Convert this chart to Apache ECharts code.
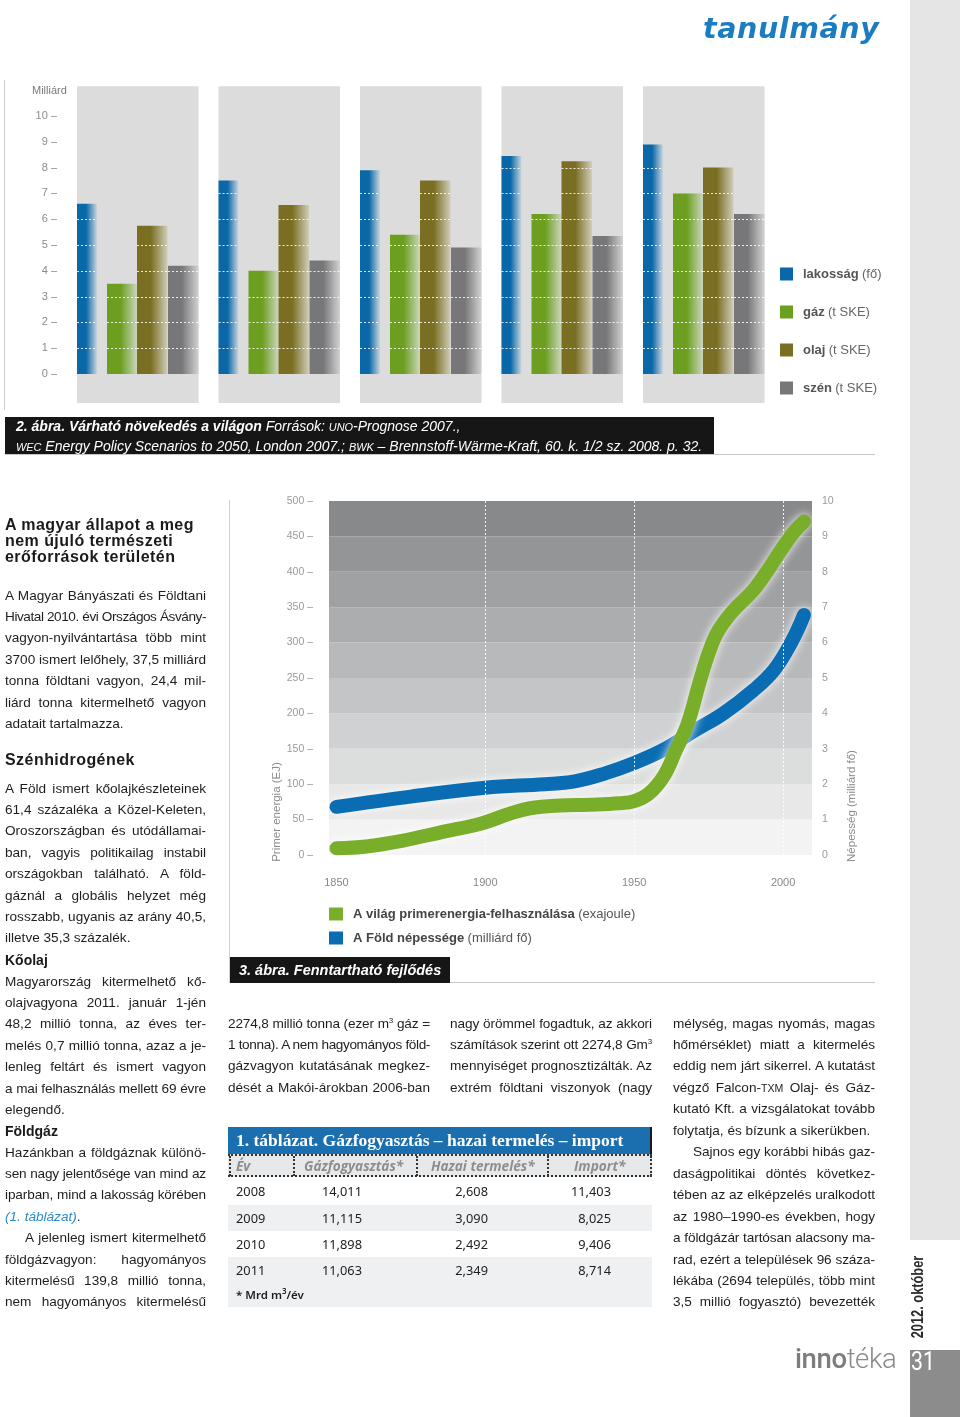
<!DOCTYPE html>
<html><head><meta charset="utf-8">
<script src="https://cdn.jsdelivr.net/npm/echarts@6/dist/echarts.min.js"></script>
<style>
html,body{margin:0;padding:0;background:#fff;}
#page{position:relative;width:960px;height:1417px;overflow:hidden;font-family:"Liberation Sans",Arial,sans-serif;color:#1e1e1e;}
#chart{position:absolute;left:0;top:0;width:960px;height:1417px;z-index:2;}
.bg{position:absolute;z-index:0;}
.abs{position:absolute;white-space:nowrap;z-index:3;}
.ln{position:absolute;white-space:nowrap;font-size:13.6px;height:21px;line-height:21px;z-index:3;color:#1e1e1e;box-sizing:border-box;}
.j{text-align:justify;text-align-last:justify;}
.hd{font-weight:bold;font-size:16px;letter-spacing:0.45px;color:#1a1a1a;}
.sc{font-size:0.78em;}
sup{font-size:8px;line-height:0;vertical-align:5px;}
.rot{position:absolute;z-index:3;text-align:center;white-space:nowrap;transform:rotate(-90deg);}
.cell{position:absolute;white-space:nowrap;z-index:3;}
</style></head>
<body><div id="page">
<div id="chart"></div>
</div>
<script>
// ---------- data ----------
const years = ['2005', '2010', '2020', '2030', '2050'];
const population = [6.6, 7.5, 7.9, 8.45, 8.9];
const gas = [3.5, 4.0, 5.4, 6.2, 7.0];
const oil = [5.75, 6.55, 7.5, 8.25, 8.0];
const coal = [4.2, 4.4, 4.9, 5.35, 6.2];
const barSeriesNames = ['lakosság (fő)', 'gáz (t SKE)', 'olaj (t SKE)', 'szén (t SKE)'];

const energyYears = [1850, 1860, 1872, 1885, 1899, 1908, 1915, 1925, 1935, 1945, 1950, 1955, 1960, 1964, 1968, 1972, 1975, 1978, 1983, 1990, 1995, 2000, 2004, 2007];
const energyEJ = [9.5, 12, 20, 32, 45, 58, 66, 70, 71, 73, 76, 87, 112, 148, 186, 245, 285, 315, 344, 374, 403, 435, 458, 471];
const popYears = [1850, 1875, 1900, 1920, 1930, 1940, 1950, 1960, 1970, 1980, 1990, 1997, 2003, 2007];
const popBillion = [1.36, 1.65, 1.9, 2.0, 2.08, 2.3, 2.6, 2.98, 3.5, 4.0, 4.65, 5.23, 6.05, 6.78];
const lineSeriesNames = ['A világ primerenergia-felhasználása (exajoule)', 'A Föld népessége (milliárd fő)'];
const yearTicks = [1850, 1900, 1950, 2000];
const guideYears = [1900, 1950, 2000];

const tableYears = ['2008', '2009', '2010', '2011'];
const gasConsumption = ['14,011', '11,115', '11,898', '11,063'];
const domesticProduction = ['2,608', '3,090', '2,492', '2,349'];
const gasImport = ['11,403', '8,025', '9,406', '8,714'];
const tableHeaders = ['Év', 'Gázfogyasztás*', 'Hazai termelés*', 'Import*'];

// ---------- page decorations (HTML) ----------
const page = document.getElementById('page');
function el(cls, style, html) {
  const d = document.createElement('div');
  d.className = cls; d.setAttribute('style', style); if (html != null) d.innerHTML = html;
  page.appendChild(d); return d;
}
el('bg', 'left:910px;top:0;width:50px;height:1240px;background:#e5e5e5;');
el('bg', 'left:910px;top:1350px;width:50px;height:67px;background:#8c8c8c;');
el('bg', 'left:4px;top:80px;width:1px;height:330px;background:#cfcfcf;');
el('bg', 'left:5px;top:417px;width:709px;height:37px;background:#161616;');
el('bg', 'left:5px;top:454px;width:870px;height:1px;background:#c8c8c8;');
el('bg', 'left:229px;top:500px;width:1px;height:483px;background:#d0d0d0;');
el('bg', 'left:230px;top:957px;width:220px;height:26px;background:#161616;');
el('bg', 'left:450px;top:982px;width:425px;height:1px;background:#c8c8c8;');

el('abs', 'left:703px;top:12px;font-family:"DejaVu Sans";font-weight:bold;font-style:oblique;font-size:28.5px;line-height:34px;color:#1b7dc0;letter-spacing:0.6px;', 'tanulmány');
el('abs', 'left:32px;top:83px;font-size:11px;line-height:14px;color:#7a7a7a;', 'Milliárd');
el('abs', 'left:16px;top:417px;font-style:italic;font-size:14px;line-height:19px;color:#fff;',
  '<b>2. ábra. Várható növekedés a világon</b> Források: <span class="sc">UNO</span>-Prognose 2007.,<br><span class="sc">WEC</span> Energy Policy Scenarios to 2050, London 2007.; <span class="sc">BWK</span> – Brennstoff-Wärme-Kraft, 60. k. 1/2 sz. 2008. p. 32.');
el('abs', 'left:239px;top:958px;font-style:italic;font-weight:bold;font-size:14.5px;line-height:24px;color:#fff;', '3. ábra. Fenntartható fejlődés');
el('rot', 'left:216px;top:805px;width:120px;height:14px;font-size:11.5px;line-height:14px;color:#8a8a8a;', 'Primer energia (EJ)');
el('rot', 'left:791px;top:799px;width:120px;height:14px;font-size:11.5px;line-height:14px;color:#8a8a8a;', 'Népesség (milliárd fő)');

// footer
el('rot', 'left:858px;top:1288px;width:120px;height:18px;font-size:16px;line-height:18px;font-weight:bold;color:#2a2a2a;transform:rotate(-90deg) scaleX(0.8);', '2012. október');
el('abs', 'left:795px;top:1342px;font-family:Roboto;font-size:27.5px;line-height:34px;color:#8a8a8a;letter-spacing:-0.4px;', '<span style="font-weight:500;color:#7d7d7d">inno</span><span style="font-weight:300">téka</span>');
el('abs', 'left:911px;top:1347px;font-family:Roboto;font-size:25px;line-height:30px;color:#fff;transform:scaleX(0.85);transform-origin:left;', '31');

// ---------- article text ----------
function para(x, y, w, lines, step) {
  step = step || 21.4;
  lines.forEach((l, i) => {
    let txt = l, justify = true, indent = 0;
    if (Array.isArray(l)) { txt = l[0]; if (l[1].indexOf('L') >= 0) justify = false; if (l[1].indexOf('I') >= 0) indent = 20; }
    const d = el('ln', 'left:' + x + 'px;top:' + (y + i * step - 10.5) + 'px;width:' + w + 'px;padding-left:' + indent + 'px;', '<span>' + txt + '</span>');
    const sp = d.firstChild;
    const nat = sp.getBoundingClientRect().width;
    const avail = w - indent;
    if (nat > avail) {
      const n = sp.textContent.length;
      d.style.letterSpacing = ((avail - nat) / n - 0.02) + 'px';
    }
    if (justify) d.className = 'ln j';
  });
}
function heading(x, y, lines, step, size) {
  lines.forEach((t, i) => el('abs hd', 'left:' + x + 'px;top:' + (y + i * step - 9) + 'px;line-height:18px;' + (size ? 'font-size:' + size + 'px;letter-spacing:0;' : ''), t));
}
heading(5, 525, ['A magyar állapot a meg', 'nem újuló természeti', 'erőforrások területén'], 16);
para(5, 595, 201, ['A Magyar Bányászati és Földtani', 'Hivatal 2010. évi Országos Ásvány-', 'vagyon-nyilvántartása több mint',
  '3700 ismert lelőhely, 37,5 milliárd', 'tonna földtani vagyon, 24,4 mil-', 'liárd tonna kitermelhető vagyon', ['adatait tartalmazza.', 'L']]);
heading(5, 760, ['Szénhidrogének'], 16);
para(5, 788, 201, ['A Föld ismert kőolajkészleteinek', '61,4 százaléka a Közel-Keleten,', 'Oroszországban és utódállamai-',
  'ban, vagyis politikailag instabil', 'országokban található. A föld-', 'gáznál a globális helyzet még', 'rosszabb, ugyanis az arány 40,5,', ['illetve 35,3 százalék.', 'L']]);
heading(5, 960, ['Kőolaj'], 16, 14);
para(5, 981, 201, ['Magyarország kitermelhető kő-', 'olajvagyona 2011. január 1-jén', '48,2 millió tonna, az éves ter-',
  'melés 0,7 millió tonna, azaz a je-', 'lenleg feltárt és ismert vagyon', 'a mai felhasználás mellett 69 évre', ['elegendő.', 'L']]);
heading(5, 1131, ['Földgáz'], 16, 14);
para(5, 1152, 201, ['Hazánkban a földgáznak különö-', 'sen nagy jelentősége van mind az', 'iparban, mind a lakosság körében',
  ['<i style="color:#2b8bc9">(1. táblázat)</i>.', 'L'], ['A jelenleg ismert kitermelhető', 'I'], 'földgázvagyon: hagyományos', 'kitermelésű 139,8 millió tonna,', 'nem hagyományos kitermelésű']);
para(228, 1023, 202, ['2274,8 millió tonna (ezer m<sup>3</sup> gáz =', '1 tonna). A nem hagyományos föld-', 'gázvagyon kutatásának megkez-', 'dését a Makói-árokban 2006-ban']);
para(450, 1023, 202, ['nagy örömmel fogadtuk, az akkori', 'számítások szerint ott 2274,8 Gm<sup>3</sup>', 'mennyiséget prognosztizálták. Az', 'extrém földtani viszonyok (nagy']);
para(673, 1023, 202, ['mélység, magas nyomás, magas', 'hőmérséklet) miatt a kitermelés', 'eddig nem járt sikerrel. A kutatást',
  'végző Falcon-<span class="sc">TXM</span> Olaj- és Gáz-', 'kutató Kft. a vizsgálatokat tovább', ['folytatja, és bízunk a sikerükben.', 'L'],
  ['Sajnos egy korábbi hibás gaz-', 'I'], 'daságpolitikai döntés következ-', 'tében az az elképzelés uralkodott', 'az 1980–1990-es években, hogy',
  'a földgázár tartósan alacsony ma-', 'rad, ezért a települések 96 száza-', 'lékába (2694 település, több mint', '3,5 millió fogyasztó) bevezették'], 21.46);

// ---------- table ----------
el('bg', 'left:228px;top:1127px;width:422px;height:27px;background:#1c6fae;border-right:2px solid #1a1a1a;');
el('abs', 'left:236px;top:1127px;font-family:"Liberation Serif";font-weight:bold;font-size:17.5px;line-height:27px;color:#fff;', '1. táblázat. Gázfogyasztás – hazai termelés – import');
el('bg', 'left:228px;top:1154px;width:424px;height:23px;background:#e7e8e9;border-top:2px dotted #333;border-bottom:2px dotted #333;box-sizing:border-box;');
[229, 293, 416, 547, 650].forEach(x => el('bg', 'left:' + x + 'px;top:1156px;width:0;height:20px;border-left:2px dotted #333;'));
const hdrX = [236, 304, 431, 574];
tableHeaders.forEach((h, i) => el('cell', 'left:' + hdrX[i] + 'px;top:1156px;font-family:"Open Sans";font-style:italic;font-weight:bold;font-size:13.6px;line-height:20px;color:#8e8e8e;', h));
const rowTop = [1178, 1205, 1231, 1257];
tableYears.forEach((y, i) => {
  el('bg', 'left:228px;top:' + rowTop[i] + 'px;width:424px;height:26px;background:' + (i % 2 ? '#eef0f1' : '#fff') + ';');
  const st = 'top:' + rowTop[i] + 'px;font-family:"Noto Sans";font-size:12.8px;line-height:26px;color:#1e1e1e;';
  el('cell', 'left:236px;' + st, y);
  el('cell', 'left:262px;width:100px;text-align:right;' + st, gasConsumption[i]);
  el('cell', 'left:388px;width:100px;text-align:right;' + st, domesticProduction[i]);
  el('cell', 'left:511px;width:100px;text-align:right;' + st, gasImport[i]);
});
el('bg', 'left:228px;top:1283px;width:424px;height:24px;background:#eef0f1;');
el('cell', 'left:236px;top:1283px;font-family:"Noto Sans";font-weight:600;font-size:11.5px;line-height:24px;color:#1e1e1e;', '* Mrd m<sup>3</sup>/év');

// ---------- charts ----------
const chart = echarts.init(document.getElementById('chart'), null, { renderer: 'canvas' });
const BAND_REF = 141.5;
const barStyles = [
  { off: 0, w: 20, color: '#0a67a8', fade: '#c9d5de' },
  { off: 30, w: 30, color: '#6c9e1f', fade: '#cbd6bd' },
  { off: 60, w: 30.5, color: '#7a6e22', fade: '#d0cdbb' },
  { off: 91, w: 30.5, color: '#77777a', fade: '#d2d2d2' }
];
function barRenderer(s) {
  return function (params, api) {
    const idx = api.value(0), v = api.value(1);
    const band = api.size([1, 0])[0];
    const base = api.coord([idx, 0]);
    const k = band / BAND_REF;
    const x = base[0] - band / 2 + s.off * k;
    const w = s.w * k;
    const yTop = api.coord([idx, v])[1];
    const children = [{
      type: 'rect', shape: { x: x, y: yTop, width: w, height: base[1] - yTop },
      style: { fill: { type: 'linear', x: 0, y: 0, x2: 1, y2: 0, colorStops: [
        { offset: 0, color: s.color }, { offset: 0.45, color: s.color }, { offset: 1, color: s.fade }] } }
    }];
    for (let t = 1; t < v; t++) {
      const yy = Math.round(api.coord([idx, t])[1]) + 0.5;
      children.push({ type: 'line', shape: { x1: x, y1: yy, x2: x + w, y2: yy },
        style: { stroke: 'rgba(255,255,255,0.85)', lineWidth: 1, lineDash: [2, 2] } });
    }
    return { type: 'group', children: children };
  };
}
const barValues = [population, gas, oil, coal];
const barSeries = barSeriesNames.map((name, si) => ({
  name: name, type: 'custom', xAxisIndex: 0, yAxisIndex: 0, z: 3,
  itemStyle: { color: barStyles[si].color },
  renderItem: barRenderer(barStyles[si]),
  encode: { x: 0, y: 1 },
  data: years.map((y, i) => [i, barValues[si][i]])
}));
const panelSeries = {
  type: 'custom', xAxisIndex: 0, yAxisIndex: 0, z: 1, silent: true,
  renderItem: function (params, api) {
    const idx = api.value(0);
    const band = api.size([1, 0])[0];
    const c = api.coord([idx, 0]);
    const top = api.coord([idx, 11.15])[1];
    const bot = api.coord([idx, -1.12])[1];
    return { type: 'rect', shape: { x: c[0] - band / 2, y: top, width: band * 121.5 / BAND_REF, height: bot - top }, style: { fill: '#dcdcdc' } };
  },
  encode: { x: 0, y: 1 },
  data: years.map((y, i) => [i, 10])
};
const bandColors = ['#f3f3f3', '#e8e8e9', '#dcdddd', '#d0d1d2', '#c4c5c6', '#b8b9ba', '#acadaf', '#a0a1a3', '#949597', '#88898b'];
function richName(name) { const m = name.match(/^(.*?) (\(.*\))$/); return '{b|' + m[1] + '} {n|' + m[2] + '}'; }

chart.setOption({
  animation: false,
  grid: [
    { left: 77, top: 116, width: 707.5, height: 258 },
    { left: 329, top: 501, width: 483, height: 354 }
  ],
  legend: [
    { data: barSeriesNames, orient: 'vertical', left: 775, top: 262, itemWidth: 13, itemHeight: 13, itemGap: 24, icon: 'rect',
      selectedMode: false, formatter: richName,
      textStyle: { padding: [0, 0, 0, 5], lineHeight: 14, rich: { b: { fontWeight: 'bold', fontSize: 13, color: '#555', fontFamily: 'Liberation Sans' }, n: { fontSize: 13, color: '#666', fontFamily: 'Liberation Sans' } } } },
    { data: lineSeriesNames, orient: 'vertical', left: 324, top: 902, itemWidth: 14, itemHeight: 13, itemGap: 10, icon: 'rect',
      selectedMode: false, formatter: richName,
      textStyle: { padding: [0, 0, 0, 5], lineHeight: 14, rich: { b: { fontWeight: 'bold', fontSize: 13, color: '#444', fontFamily: 'Liberation Sans' }, n: { fontSize: 13, color: '#555', fontFamily: 'Liberation Sans' } } } }
  ],
  xAxis: [
    { gridIndex: 0, type: 'category', data: years, axisLine: { show: false }, axisTick: { show: false },
      axisLabel: { color: '#666', fontSize: 11, margin: 10, padding: [0, 20, 0, 0] } },
    { gridIndex: 1, type: 'value', min: 1847.5, max: 2009.7, axisLine: { show: false }, axisTick: { show: false }, splitLine: { show: false },
      axisLabel: { customValues: yearTicks, color: '#888', fontSize: 11, margin: 22, formatter: v => String(v) } }
  ],
  yAxis: [
    { gridIndex: 0, type: 'value', min: 0, max: 10, interval: 1, axisLine: { show: false }, axisTick: { show: false }, splitLine: { show: false },
      axisLabel: { formatter: '{value} –', color: '#8c8c8c', fontSize: 11, margin: 20 } },
    { gridIndex: 1, type: 'value', min: 0, max: 500, interval: 50, position: 'left', axisLine: { show: false }, axisTick: { show: false }, splitLine: { show: false },
      splitArea: { show: true, areaStyle: { color: bandColors } },
      axisLabel: { formatter: '{value} –', color: '#9a9a9a', fontSize: 10.5, margin: 16 } },
    { gridIndex: 1, type: 'value', min: 0, max: 10, interval: 1, position: 'right', axisLine: { show: false }, axisTick: { show: false }, splitLine: { show: false },
      axisLabel: { color: '#9a9a9a', fontSize: 10.5, margin: 10 } }
  ],
  series: [panelSeries].concat(barSeries).concat([
    { name: lineSeriesNames[1], type: 'line', xAxisIndex: 1, yAxisIndex: 2, z: 4, smooth: 0.4, symbol: 'none',
      itemStyle: { color: '#0a6db3' },
      lineStyle: { width: 14, color: '#0a6db3', cap: 'round', join: 'round', shadowColor: 'rgba(255,255,255,0.9)', shadowBlur: 10 },
      data: popYears.map((y, i) => [y, popBillion[i]]) },
    { name: lineSeriesNames[0], type: 'line', xAxisIndex: 1, yAxisIndex: 1, z: 5, smooth: 0.4, symbol: 'none',
      itemStyle: { color: '#78ae2a' },
      lineStyle: { width: 14, color: '#78ae2a', cap: 'round', join: 'round', shadowColor: 'rgba(255,255,255,0.9)', shadowBlur: 10 },
      data: energyYears.map((y, i) => [y, energyEJ[i]]) },
    { type: 'line', xAxisIndex: 1, yAxisIndex: 1, z: 6, symbol: 'none', silent: true, lineStyle: { opacity: 0 },
      data: energyYears.map((y, i) => [y, energyEJ[i]]),
      markLine: { silent: true, symbol: 'none', label: { show: false }, lineStyle: { color: '#ffffff', type: [2, 2], width: 1, opacity: 0.9 },
        data: guideYears.map(y => ({ xAxis: y })) } }
  ])
});
</script>
</body></html>
